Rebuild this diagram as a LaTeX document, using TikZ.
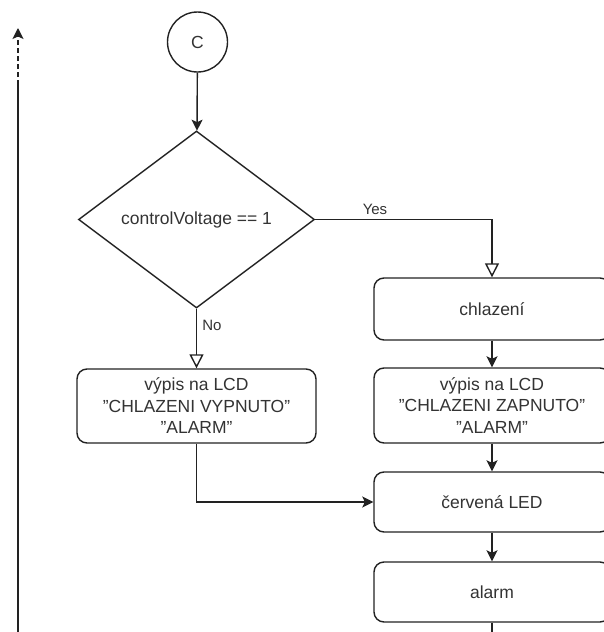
\documentclass[tikz,border=0pt]{standalone}
\usepackage{fontspec}
\setmainfont{Liberation Sans}
\usetikzlibrary{shapes.geometric,arrows.meta}
\definecolor{lc}{HTML}{222222}
\definecolor{tc}{HTML}{333333}
\newcommand{\qq}{\symbol{34}}
\begin{document}
\begin{tikzpicture}[x=1pt,y=-1pt,
  conn/.style={draw=lc, line width=1.4pt},
  farrow/.style={conn, -{Stealth[length=11pt,width=11pt,inset=2.5pt]}},
  oarrow/.style={conn, -{Triangle[open,length=14pt,width=14pt,fill=white]}},
  txt/.style={text=tc, font=\fontsize{17.5}{21.5}\selectfont},
  lbl/.style={text=tc, font=\fontsize{15}{18}\selectfont, inner sep=1pt},
  box/.style={draw=lc, line width=1.4pt, rounded corners=10pt, minimum width=236pt,
    minimum height=62pt, align=center, txt, fill=white},
  term/.style={draw=lc, line width=1.4pt, circle, minimum size=60pt, inner sep=0pt, txt},
  decision/.style={draw=lc, line width=1.4pt, diamond, aspect=1.33, minimum width=236pt,
    minimum height=177pt, inner sep=0pt, txt}]
\useasboundingbox (0,0) rectangle (604,632);
\clip (0,0) rectangle (604,632);

\node[term] (C) at (197.5,42) {C};
\node[decision] (D) at (196.5,219.5) {controlVoltage == 1};
\node[box] (chl) at (492,309) {chlazení};
\node[box, minimum height=75pt] (vR) at (492,405.5) {výpis na LCD\\\qq CHLAZENI ZAPNUTO\qq\\\qq ALARM\qq};
\node[box, minimum height=60pt] (led) at (492,502) {červená LED};
\node[box, minimum height=60pt] (alarm) at (492,592) {alarm};
\node[box, minimum width=239pt, minimum height=74pt] (vL) at (196.5,406) {výpis na LCD\\\qq CHLAZENI VYPNUTO\qq\\\qq ALARM\qq};

\coordinate (abot) at (492,640);
\coordinate (lbot) at (18,640);
\coordinate (lmid) at (18,85);
\coordinate (ltop) at (18,28);

\draw[farrow] (C) -- (D);
\draw[oarrow] (D.east) -| (chl.north);
\node[lbl] (yes) at (375,209) {Yes};
\draw[oarrow] (D.south) -- (vL.north);
\node[lbl] (no) at (212,325) {No};
\draw[farrow] (chl) -- (vR);
\draw[farrow] (vR) -- (led);
\draw[farrow] (led) -- (alarm);
\draw[conn] (alarm.south) -- (abot);
\draw[farrow] (vL.south) |- (led.west);
\draw[conn] (lbot) -- (lmid);
\draw[farrow, dash pattern=on 5pt off 3pt] (lmid) -- (ltop);
\end{tikzpicture}
\end{document}
